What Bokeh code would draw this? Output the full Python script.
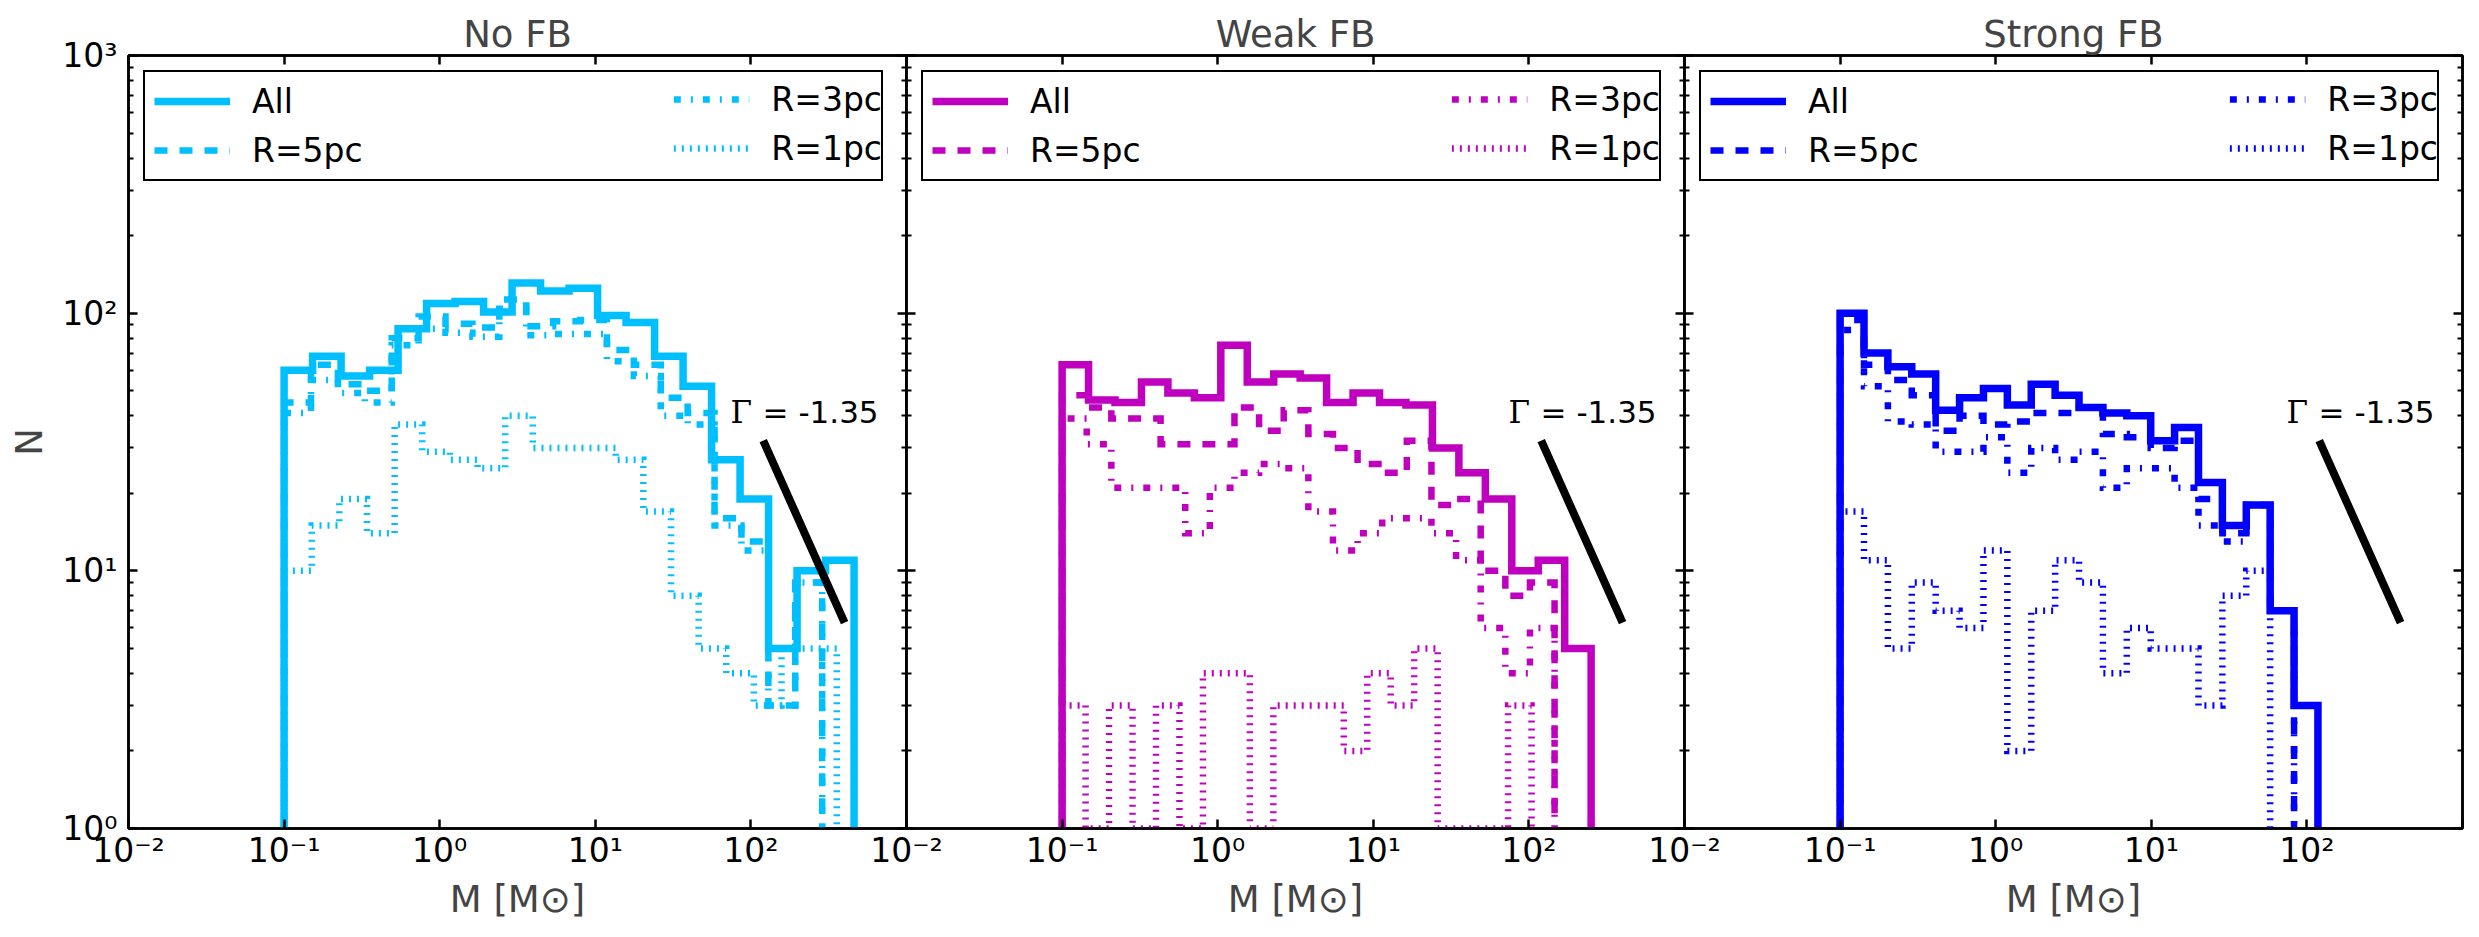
import numpy as np
from bokeh.plotting import figure
from bokeh.layouts import row
from bokeh.models import FixedTicker, LogAxis, Legend, LegendItem, Range1d
from bokeh.core.properties import value
from bokeh.embed import file_html
from bokeh.resources import INLINE

FONT = "DejaVu Sans"

panel_titles = ["No FB", "Weak FB", "Strong FB"]
panel_colors = ["#00BFFF", "#BF00BF", "#0000FF"]
series_labels = ["All", "R=5pc", "R=3pc", "R=1pc"]

# Each histogram: 20 log-spaced bins between log10(M) limits (lo, hi)
# ---- No FB ----
nofb_all_range = (-1.0, 2.663)
nofb_all = [60, 68, 57, 60, 87, 109, 111, 101, 131, 122, 125, 98, 92, 68, 52, 27, 19, 5, 10, 11]
nofb_r5_range = (-1.0, 2.458)
nofb_r5 = [45, 63, 53, 50, 80, 97, 91, 88, 113, 89, 93, 94, 72, 63, 47, 41, 16, 13, 3, 9]
nofb_r3_range = (-1.0, 2.458)
nofb_r3 = [41, 55, 49, 45, 75, 87, 84, 81, 104, 82, 83, 83, 65, 57, 40, 37, 15, 12, 3, 9]
nofb_r1_range = (-1.0, 2.552)
nofb_r1 = [10, 15, 19, 14, 37, 29, 27, 25, 40, 30, 30, 30, 27, 17, 8, 5, 4, 3, 5, 5]
# ---- Weak FB ----
weak_all_range = (-1.0, 2.400)
weak_all = [63, 46, 45, 54, 49, 47, 75, 54, 58, 56, 45, 49, 45, 44, 30, 24, 19, 10, 11, 5]
weak_r5_range = (-1.0, 2.165)
weak_r5 = [48, 43, 39, 39, 31, 31, 31, 43, 35, 42, 34, 30, 26, 24, 32, 18, 19, 10, 8, 9]
weak_r3_range = (-1.0, 2.165)
weak_r3 = [39, 31, 21, 21, 21, 14, 21, 24, 26, 25, 17, 12, 14, 16, 16, 14, 11, 6, 4, 6]
weak_r1_range = (-1.0, 2.017)
weak_r1 = [3, 1, 3, 1, 3, 1, 4, 4, 1, 3, 3, 3, 2, 4, 3, 5, 1, 1, 1, 3]
# ---- Strong FB ----
strong_all_range = (-1.0, 2.071)
strong_all = [100, 70, 62, 58, 42, 47, 51, 44, 53, 48, 43, 41, 40, 32, 36, 22, 15, 18, 7, 3]
strong_r5_range = (-1.0, 2.071)
strong_r5 = [94, 63, 55, 48, 35, 40, 37, 38, 41, 41, 43, 34, 33, 30, 32, 19, 14, 18, 7, 0]
strong_r3_range = (-1.0, 2.071)
strong_r3 = [86, 52, 38, 37, 29, 29, 33, 24, 30, 27, 29, 21, 25, 25, 21, 15, 13, 18, 7, 0]
strong_r1_range = (-1.0, 2.071)
strong_r1 = [17, 11, 5, 9, 7, 6, 12, 2, 7, 11, 9, 4, 6, 5, 5, 3, 8, 10, 0, 0]

panels_data = [
    [(nofb_all_range, nofb_all), (nofb_r5_range, nofb_r5), (nofb_r3_range, nofb_r3), (nofb_r1_range, nofb_r1)],
    [(weak_all_range, weak_all), (weak_r5_range, weak_r5), (weak_r3_range, weak_r3), (weak_r1_range, weak_r1)],
    [(strong_all_range, strong_all), (strong_r5_range, strong_r5), (strong_r3_range, strong_r3), (strong_r1_range, strong_r1)],
]

x_ticks = [0.01, 0.1, 1, 10, 100, 1000]
x_tick_labels = ["10⁻²", "10⁻¹", "10⁰", "10¹", "10²", ""]
y_ticks = [1, 10, 100, 1000]
y_tick_labels = ["10⁰", "10¹", "10²", "10³"]
y_minor_ticks = [m * 10 ** k for k in range(3) for m in range(2, 10)]

# power-law reference line
gamma_slope = -1.35
gamma_m = [120, 400]
gamma_n0 = 32
gamma_label_m, gamma_label_n = 74, 41.5

line_styles = [
    dict(line_width=7.5, line_dash="solid"),
    dict(line_width=6.5, line_dash="13 12"),
    dict(line_width=6.5, line_dash="7 10 2 10"),
    dict(line_width=6.5, line_dash="2 6"),
]

FLOOR = 0.5


def step_xy(rng, counts):
    edges = np.logspace(rng[0], rng[1], len(counts) + 1)
    c = np.maximum(np.asarray(counts, dtype=float), FLOOR)
    xs = np.repeat(edges, 2)
    ys = np.concatenate([[FLOOR], np.repeat(c, 2), [FLOOR]])
    return xs, ys


def style_axis(ax, ticks, minor, labels, show):
    ax.ticker = FixedTicker(ticks=ticks, minor_ticks=minor)
    ax.major_tick_in = 9
    ax.major_tick_out = 0
    ax.minor_tick_in = 5
    ax.minor_tick_out = 0
    ax.axis_line_width = 2.5
    ax.axis_line_color = "black"
    ax.major_tick_line_width = 2.5
    ax.minor_tick_line_width = 2
    ax.major_tick_line_color = "black"
    ax.minor_tick_line_color = "black" if minor else None
    if show:
        ax.major_label_overrides = {t: l for t, l in zip(ticks, labels)}
        ax.major_label_text_font = FONT
        ax.major_label_text_font_size = "33px"
        ax.major_label_text_color = "black"
    else:
        ax.major_label_overrides = {t: "" for t in ticks}
        ax.major_label_text_font_size = "0px"
        ax.major_label_standoff = 0


def legend_props():
    return dict(margin=15, padding=9, spacing=9, glyph_width=76, glyph_height=20,
                label_standoff=22, label_text_font=FONT, label_text_font_size="33px",
                label_text_color="black", label_height=40,
                border_line_color="black", border_line_width=2)


def make_panel(idx):
    first = idx == 0
    last = idx == 2
    color = panel_colors[idx]
    p = figure(x_axis_type="log", y_axis_type="log",
               x_range=Range1d(0.01, 1000), y_range=Range1d(1, 1000),
               frame_width=778, frame_height=773,
               min_border_left=128 if first else 40,
               min_border_right=16 if last else 40,
               min_border_top=55, min_border_bottom=109,
               toolbar_location=None, output_backend="svg",
               background_fill_color="white", border_fill_color=None)
    p.grid.visible = False
    p.outline_line_color = "black"
    p.outline_line_width = 2.5

    p.title.text = panel_titles[idx]
    p.title.align = "center"
    p.title.text_font = FONT
    p.title.text_font_size = "37px"
    p.title.text_font_style = "normal"
    p.title.standoff = 0

    xb = p.xaxis[0]
    style_axis(xb, x_ticks, [], x_tick_labels, True)
    xb.major_label_standoff = 2
    xb.axis_label = "M [M⊙]"
    xb.axis_label_text_font = FONT
    xb.axis_label_text_font_size = "37px"
    xb.axis_label_text_font_style = "normal"
    xb.axis_label_standoff = 5

    yl = p.yaxis[0]
    style_axis(yl, y_ticks, y_minor_ticks, y_tick_labels, first)
    if first:
        yl.major_label_standoff = 11
        yl.axis_label = "N"
        yl.axis_label_text_font = FONT
        yl.axis_label_text_font_size = "37px"
        yl.axis_label_text_font_style = "normal"
        yl.axis_label_standoff = 8

    xt = LogAxis()
    style_axis(xt, x_ticks, [], x_tick_labels, False)
    p.add_layout(xt, "above")
    yr = LogAxis()
    style_axis(yr, y_ticks, y_minor_ticks, y_tick_labels, False)
    p.add_layout(yr, "right")

    renderers = []
    for (rng, counts), st in zip(panels_data[idx], line_styles):
        xs, ys = step_xy(rng, counts)
        r = p.line(xs, ys, line_color=color, line_join="miter", line_cap="butt", **st)
        renderers.append(r)
    p.renderers.remove(renderers[0])
    p.renderers.append(renderers[0])

    gm = np.array(gamma_m, dtype=float)
    gn = gamma_n0 * (gm / gm[0]) ** gamma_slope
    p.line(gm, gn, line_color="black", line_width=8, line_cap="butt")
    p.text(x=[gamma_label_m], y=[gamma_label_n], text=["Γ"], text_font=value("DejaVu Serif"),
           text_font_size="31px", text_baseline="middle", text_align="left", text_color="black")
    p.text(x=[gamma_label_m], y=[gamma_label_n], text=["= -1.35"], text_font=value(FONT),
           text_font_size="31px", text_baseline="middle", text_align="left", text_color="black",
           x_offset=32)

    leg_a = Legend(items=[LegendItem(label=series_labels[0], renderers=[renderers[0]]),
                          LegendItem(label=series_labels[1], renderers=[renderers[1]])],
                   location="top_left", label_width=620, border_line_alpha=1.0,
                   background_fill_color="white", background_fill_alpha=1.0, **legend_props())
    leg_b = Legend(items=[LegendItem(label=series_labels[2], renderers=[renderers[2]]),
                          LegendItem(label=series_labels[3], renderers=[renderers[3]])],
                   location="top_right", border_line_alpha=0.0,
                   background_fill_color="white", background_fill_alpha=0.0, **legend_props())
    p.add_layout(leg_a)
    p.add_layout(leg_b)
    if not first:
        p.margin = (0, 0, 0, -80)
    return p


panels = [make_panel(i) for i in range(3)]
layout = row(*panels, spacing=0)

open("out.html", "w").write(file_html(layout, INLINE))
